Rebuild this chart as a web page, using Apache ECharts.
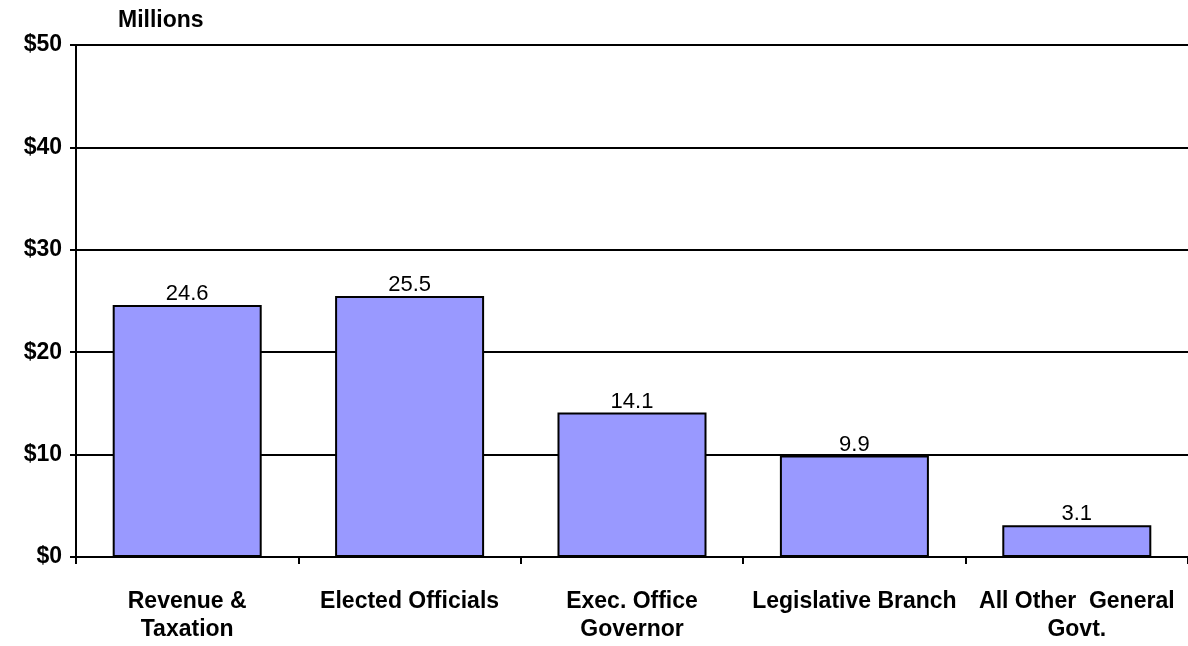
<!DOCTYPE html>
<html><head><meta charset="utf-8">
<script src="https://cdn.jsdelivr.net/npm/echarts@6/dist/echarts.min.js"></script>
<style>html,body{margin:0;padding:0;background:#fff}#c{width:1188px;height:646px}</style>
</head><body><div id="c"></div>
<script>
const categories = ["Revenue &\nTaxation", "Elected Officials", "Exec. Office\nGovernor", "Legislative Branch", "All Other  General\nGovt."];
const values = [24.6, 25.5, 14.1, 9.9, 3.1];
const yTicks = ["$0", "$10", "$20", "$30", "$40", "$50"];

const chart = echarts.init(document.getElementById('c'));
const font = 'Liberation Sans, Arial, sans-serif';
chart.setOption({
  animation: false,
  title: {text: 'Millions', left: 118, top: 9, padding: 0, textStyle: {fontFamily: font, fontSize: 23, fontWeight: 'bold', color: '#000'}},
  grid: {left: 76, right: 0, top: 45, bottom: 89, containLabel: false},
  xAxis: {
    type: 'category', data: categories,
    axisLine: {lineStyle: {color: '#000', width: 2}},
    axisTick: {show: true, length: 7, lineStyle: {color: '#000', width: 2}},
    axisLabel: {fontFamily: font, fontSize: 23, fontWeight: 'bold', color: '#000', margin: 31, lineHeight: 28, interval: 0}
  },
  yAxis: {
    type: 'value', min: 0, max: 50, interval: 10,
    axisLine: {show: true, lineStyle: {color: '#000', width: 2}},
    axisTick: {show: true, length: 6, lineStyle: {color: '#000', width: 2}},
    splitLine: {lineStyle: {color: '#000', width: 2}},
    axisLabel: {fontFamily: font, fontSize: 23, fontWeight: 'bold', color: '#000', margin: 14,
      formatter: v => yTicks[Math.round(v / 10)]}
  },
  series: [{
    type: 'bar', data: values, barWidth: '67%',
    itemStyle: {color: '#9999FF', borderColor: '#000', borderWidth: 2},
    label: {show: true, position: 'top', distance: 0, fontFamily: font, fontSize: 22, color: '#000',
      formatter: p => p.value.toFixed(1)}
  }]
});
</script></body></html>
